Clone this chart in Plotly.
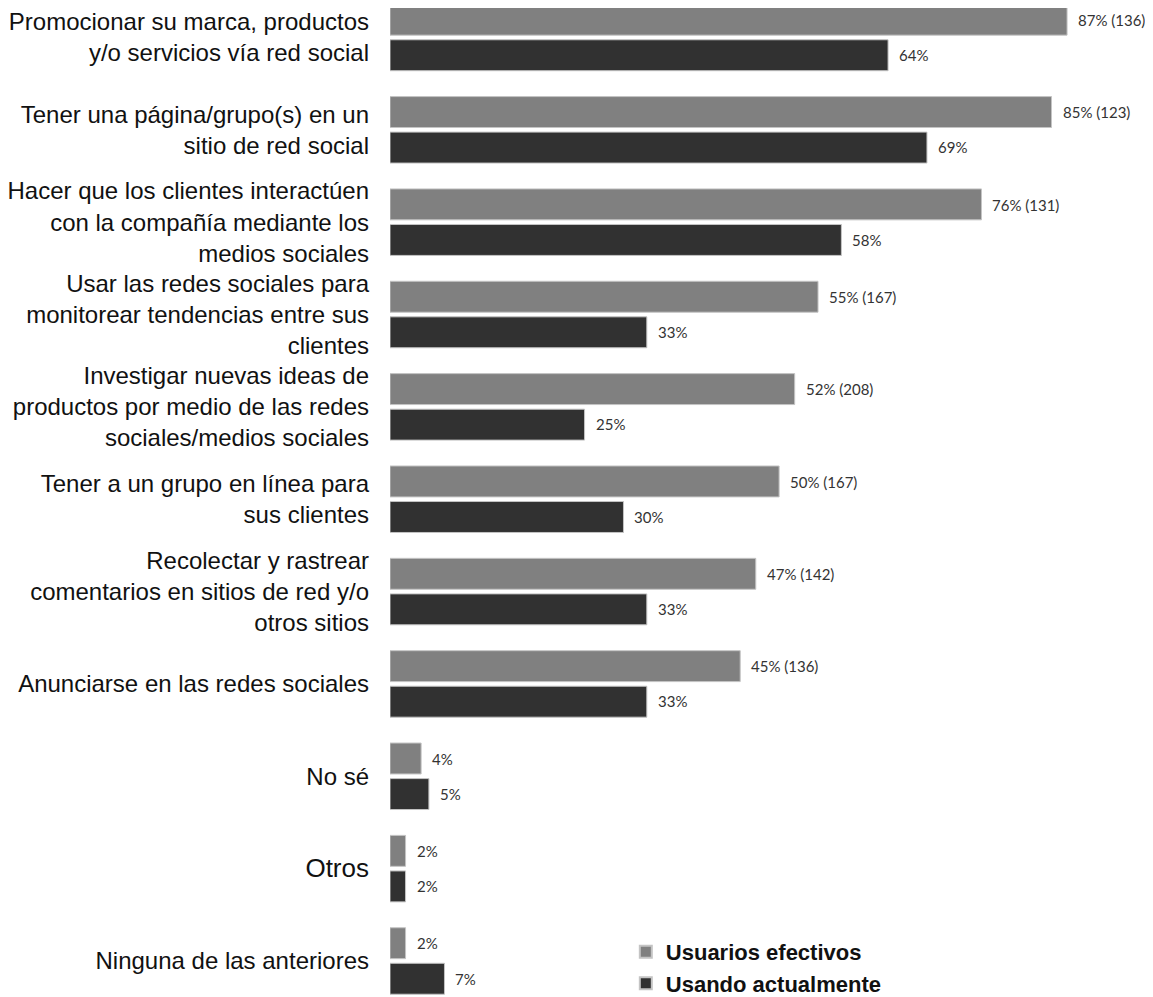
import plotly.graph_objects as go

categories = [
    "Promocionar su marca, productos<br>y/o servicios vía red social",
    "Tener una página/grupo(s) en un<br>sitio de red social",
    "Hacer que los clientes interactúen<br>con la compañía mediante los<br>medios sociales",
    "Usar las redes sociales para<br>monitorear tendencias entre sus<br>clientes",
    "Investigar nuevas ideas de<br>productos por medio de las redes<br>sociales/medios sociales",
    "Tener a un grupo en línea para<br>sus clientes",
    "Recolectar y rastrear<br>comentarios en sitios de red y/o<br>otros sitios",
    "Anunciarse en las redes sociales",
    "No sé",
    "<span style='font-size:26px'>Otros</span>",
    "Ninguna de las anteriores",
]
efectivos = [87, 85, 76, 55, 52, 50, 47, 45, 4, 2, 2]
efectivos_n = [136, 123, 131, 167, 208, 167, 142, 136, None, None, None]
actual = [64, 69, 58, 33, 25, 30, 33, 33, 5, 2, 7]

pos = list(range(len(categories)))
W = 0.335
GRAY = "#808080"
DARK = "#313131"
EDGE = "#c4c4c4"

fig = go.Figure()
fig.add_trace(go.Bar(
    name="Usuarios efectivos", y=pos, x=efectivos, orientation="h",
    width=W, offset=-0.36, marker=dict(color=GRAY, line=dict(color=EDGE, width=1)),
    hoverinfo="skip",
))
fig.add_trace(go.Bar(
    name="Usando actualmente", y=pos, x=actual, orientation="h",
    width=W, offset=0.025, marker=dict(color=DARK, line=dict(color=EDGE, width=1)),
    hoverinfo="skip",
))

lab_font = dict(family="Lato, sans-serif", size=15, color="#333333")
for i in pos:
    t = f"{efectivos[i]}%" + (f" ({efectivos_n[i]})" if efectivos_n[i] else "")
    fig.add_annotation(x=efectivos[i], y=i - 0.19, text=t, showarrow=False,
                       xanchor="left", yanchor="middle", xshift=9, font=lab_font)
    fig.add_annotation(x=actual[i], y=i + 0.19, text=f"{actual[i]}%", showarrow=False,
                       xanchor="left", yanchor="middle", xshift=9, font=lab_font)

fig.update_layout(
    width=1145, height=989,
    margin=dict(l=382, r=12, t=0, b=0, autoexpand=False),
    plot_bgcolor="white", paper_bgcolor="white",
    showlegend=True,
    legend=dict(x=0.314, y=-0.008, xanchor="left", yanchor="bottom",
                font=dict(family="Liberation Sans, Arial, sans-serif",
                          size=22, color="#111111", weight="bold"),
                traceorder="normal", bgcolor="rgba(0,0,0,0)", itemsizing="constant",
                tracegroupgap=0),
    font=dict(family="Liberation Sans, Arial, sans-serif", size=24, color="#111111"),
)
fig.update_xaxes(range=[0, 96.5], visible=False, fixedrange=True)
fig.update_yaxes(
    tickmode="array", tickvals=pos, ticktext=categories,
    range=[10.39, -0.319], showgrid=False, zeroline=False, showline=False,
    ticks="", ticklabelstandoff=20,
    tickfont=dict(family="Liberation Sans, Arial, sans-serif", size=24, color="#111111"),
)

fig.write_html("out.html")
